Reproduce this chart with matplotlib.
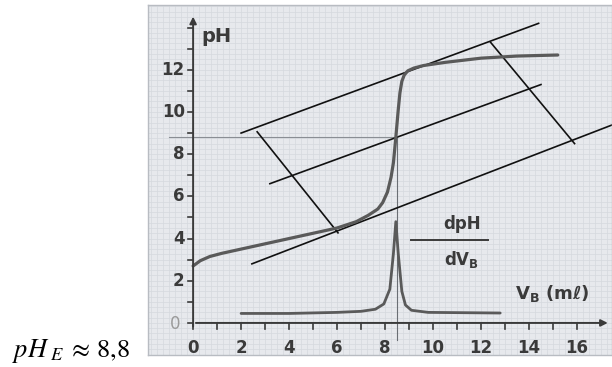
import matplotlib.pyplot as plt
import numpy as np

# titration curve pH = f(V_B)
vol = [0, 0.3, 0.7, 1.2, 2, 3, 4, 5, 6, 6.8, 7.3, 7.7, 7.9, 8.1, 8.25, 8.35, 8.45,
       8.55, 8.62, 8.7, 8.8, 8.95, 9.2, 9.6, 10.5, 12, 13.5, 15.2]
ph = [2.7, 2.95, 3.15, 3.3, 3.5, 3.75, 4.0, 4.25, 4.5, 4.8, 5.1, 5.4, 5.7, 6.2, 6.9, 7.6, 8.8,
      10.1, 10.9, 11.45, 11.75, 11.95, 12.08, 12.2, 12.35, 12.55, 12.65, 12.7]

# derivative dpH/dV_B
dvol = [2, 4, 6, 7, 7.6, 7.95, 8.2, 8.35, 8.45, 8.55, 8.7, 8.85, 9.1, 9.8, 12.8]
dph = [0.45, 0.45, 0.5, 0.55, 0.65, 0.9, 1.6, 3.3, 4.8, 3.3, 1.5, 0.85, 0.6, 0.5, 0.47]

# tangent method construction lines (V, pH) pairs
tangents = [
    ([2.0, 14.4], [9.0, 14.2]),
    ([3.2, 14.5], [6.6, 11.3]),
    ([2.45, 17.5], [2.8, 9.4]),
    ([2.67, 6.04], [9.06, 4.27]),
    ([12.4, 15.9], [13.3, 8.5]),
]

V_EQ = 8.5
PH_EQ = 8.8
x_ticks = list(range(0, 17))
x_labels = [0, 2, 4, 6, 8, 10, 12, 14, 16]
y_ticks = list(range(0, 15))
y_labels = [2, 4, 6, 8, 10, 12]

INK = "#3a3a3a"
CURVE = "#5a5a5a"
PAPER = "#e7e9ed"
GRID = "#d5d9de"

fig = plt.figure(figsize=(6.12, 3.67), dpi=100)
ax = fig.add_axes([148 / 612, 12 / 367, 464 / 612, 350 / 367])
ax.set_xlim(-1.88, 17.46)
ax.set_ylim(-1.52, 15.07)
ax.set_facecolor(PAPER)
for s in ax.spines.values():
    s.set_color("#b8bcc2")
    s.set_linewidth(1.0)
ax.set_xticks([])
ax.set_yticks([])

# graph paper
for gx in np.arange(-1.75, 17.5, 0.25):
    ax.axvline(gx, color=GRID, lw=0.5, zorder=0)
for gy in np.arange(-1.5, 15.1, 0.25):
    ax.axhline(gy, color=GRID, lw=0.5, zorder=0)

# axes with arrows
ax.annotate("", xy=(0, 14.65), xytext=(0, -0.3),
            arrowprops=dict(arrowstyle="-|>", color=INK, lw=1.4, mutation_scale=10))
ax.annotate("", xy=(17.4, 0), xytext=(0, 0),
            arrowprops=dict(arrowstyle="-|>", color=INK, lw=1.4, mutation_scale=10))
for t in y_ticks:
    ax.plot([-0.22, 0], [t, t], color=INK, lw=1.2)
for t in x_ticks:
    ax.plot([t, t], [0, -0.3], color=INK, lw=1.2)

lab = dict(color=INK, fontsize=12, fontweight="bold")
for t in y_labels:
    ax.text(-0.35, t, str(t), ha="right", va="center", **lab)
ax.text(-0.55, -0.05, "0", ha="right", va="center", color="#9a9a9a", fontsize=12)
for t in x_labels:
    ax.text(t, -0.75, str(t), ha="center", va="top", **lab)

ax.text(0.35, 13.6, "pH", ha="left", va="center", color=INK, fontsize=14, fontweight="bold")
ax.text(11.2, 4.7, "dpH", ha="center", va="center", color=INK, fontsize=12, fontweight="bold")
ax.plot([9.1, 12.3], [3.93, 3.93], color=INK, lw=1.4)
ax.text(11.2, 3.0, r"dV$_\mathregular{B}$", ha="center", va="center", color=INK,
        fontsize=12, fontweight="bold")
ax.text(13.4, 1.4, r"V$_\mathregular{B}$ (mℓ)", ha="left", va="center", color=INK,
        fontsize=13, fontweight="bold")

# equivalence point guides
ax.plot([-1.0, V_EQ], [PH_EQ, PH_EQ], color="#8a8e94", lw=0.8)
ax.plot([V_EQ, V_EQ], [PH_EQ, -0.8], color="#6a6e74", lw=0.8)

for xs, ys in tangents:
    ax.plot(xs, ys, color="#111111", lw=1.2)

ax.plot(vol, ph, color=CURVE, lw=2.3, solid_capstyle="round", solid_joinstyle="round")
ax.plot(dvol, dph, color=CURVE, lw=2.0, solid_capstyle="round", solid_joinstyle="round")

plt.rcParams["mathtext.fontset"] = "stix"
fig.text(12 / 612, 10 / 367, r"$pH_{\;E}\;\approx\, 8{,}8$", ha="left", va="baseline",
         fontsize=19, color="black", family="Liberation Serif")

fig.savefig("out.png", dpi=100)
